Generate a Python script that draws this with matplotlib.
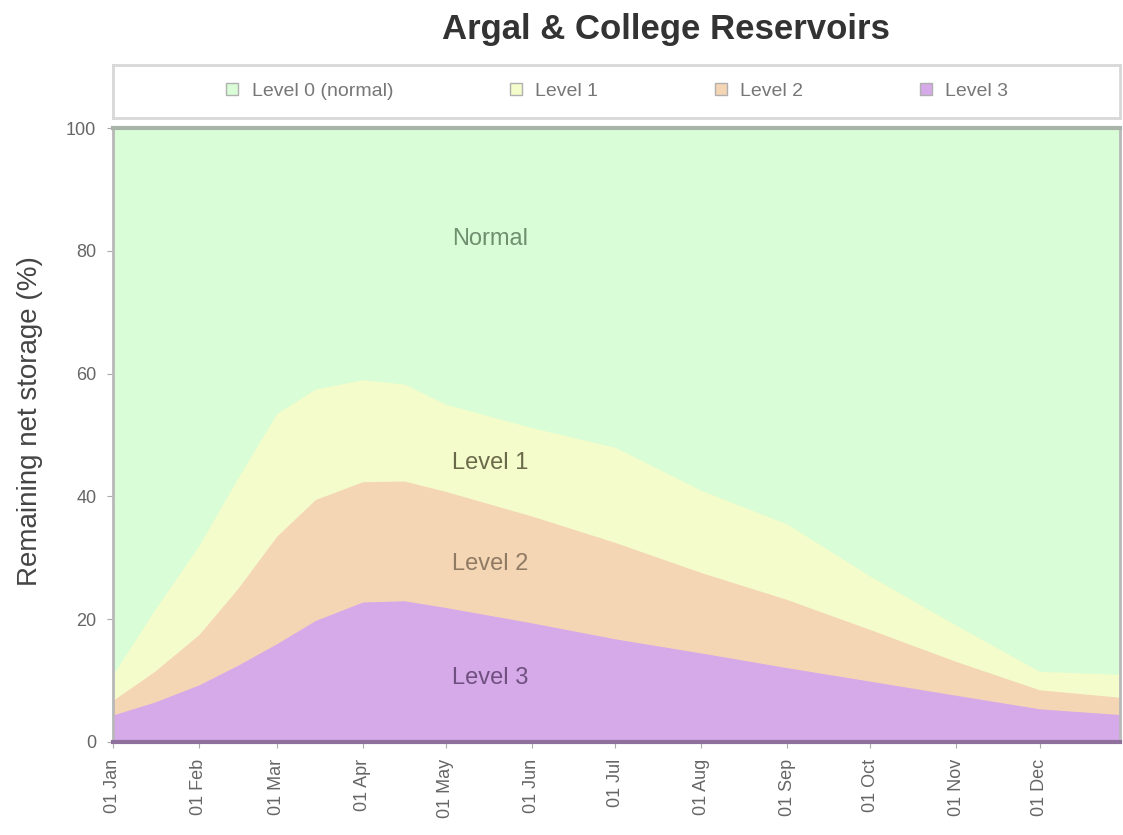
"""Argal & College reservoirs drought trigger curves."""

import matplotlib.pyplot as plt
from matplotlib.lines import Line2D

plt.rcParams["font.family"] = ["Liberation Sans", "DejaVu Sans"]

# day of year for each read-off point
days = [0, 15, 31, 45, 59, 73, 90, 105, 120, 151, 181, 212, 243, 273, 304, 334, 365]

level3_top = [4.4, 6.5, 9.3, 12.5, 16.0, 19.8, 22.8, 23.0, 21.9, 19.4, 16.8, 14.5,
              12.1, 9.9, 7.6, 5.4, 4.4]
level2_top = [6.8, 11.5, 17.5, 25.0, 33.5, 39.5, 42.4, 42.5, 40.8, 36.8, 32.5, 27.6,
              23.2, 18.3, 13.1, 8.5, 7.2]
level1_top = [11.0, 21.5, 32.0, 43.0, 53.5, 57.5, 59.0, 58.3, 55.0, 51.2, 48.0, 41.0,
              35.5, 27.0, 19.0, 11.5, 11.0]

tick_days = [0, 31, 59, 90, 120, 151, 181, 212, 243, 273, 304, 334]
tick_labels = ["01 Jan", "01 Feb", "01 Mar", "01 Apr", "01 May", "01 Jun",
               "01 Jul", "01 Aug", "01 Sep", "01 Oct", "01 Nov", "01 Dec"]

legend_labels = ["Level 0 (normal)", "Level 1", "Level 2", "Level 3"]
band_colors = ["#d9fdd7", "#f4fccb", "#f5d6b4", "#d6a9e9"]
text_colors = ["#6f8f6f", "#6a6a4a", "#8f7a64", "#6f5080"]
band_names = ["Normal", "Level 1", "Level 2", "Level 3"]
band_label_y = [82, 45.5, 29, 10.5]

figure = plt.figure(figsize=(11.23, 8.35), dpi=100)
axis = figure.add_axes([0.1006, 0.1114, 0.8967, 0.7353])

axis.fill_between(days, 0, 100, color=band_colors[0], linewidth=0)
axis.fill_between(days, 0, level1_top, color=band_colors[1], linewidth=0)
axis.fill_between(days, 0, level2_top, color=band_colors[2], linewidth=0)
axis.fill_between(days, 0, level3_top, color=band_colors[3], linewidth=0)

for name, y_value, color in zip(band_names, band_label_y, text_colors):
    axis.text(136, y_value, name, ha="center", va="center", fontsize=17, color=color)

axis.set_xlim(0, 363)
axis.set_ylim(0, 100)
axis.set_xticks(tick_days)
axis.set_xticklabels(tick_labels, rotation=90)
axis.set_yticks([0, 20, 40, 60, 80, 100])
axis.tick_params(axis="both", colors="#aaaaaa", labelcolor="#666666", labelsize=13,
                 length=4, pad=8)
axis.set_ylabel("Remaining net storage (%)", fontsize=20, color="#444444")
axis.yaxis.set_label_coords(-0.0695, 0.523)

for side in ["left", "right"]:
    axis.spines[side].set_color("#b8b8b8")
    axis.spines[side].set_linewidth(2)
axis.spines["top"].set_color("#a8b4a8")
axis.spines["top"].set_linewidth(3)
axis.spines["bottom"].set_color("#8f6f9c")
axis.spines["bottom"].set_linewidth(3)

# legend box above the plot
legend_axis = figure.add_axes([0.1006, 0.8587, 0.8967, 0.0635])
legend_axis.set_xticks([])
legend_axis.set_yticks([])
for spine in legend_axis.spines.values():
    spine.set_color("#d8d8d8")
    spine.set_linewidth(2)
handles = [
    Line2D([], [], marker="s", linestyle="none", markersize=9,
           markerfacecolor=color, markeredgecolor="#b0b0b0")
    for color in band_colors
]
legend_axis.legend(handles, legend_labels, ncol=4, loc="center", frameon=False,
                   fontsize=14, columnspacing=5.3, handletextpad=0.0,
                   labelcolor="#777777", bbox_to_anchor=(0.494, 0.5))

figure.text(0.593, 0.965, "Argal & College Reservoirs", ha="center", va="center",
            fontsize=25, fontweight="bold", color="#333333")

figure.savefig("out.png", dpi=100)
plt.close(figure)
